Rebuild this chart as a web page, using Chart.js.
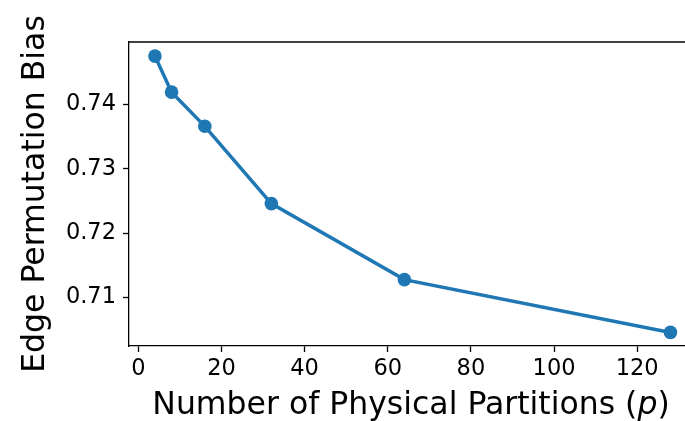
<!DOCTYPE html>
<html>
<head>
<meta charset="utf-8">
<script src="https://cdn.jsdelivr.net/npm/chart.js@4"></script>
<style>
    html, body { margin: 0; padding: 0; background: #fff; overflow: hidden; }
    #wrap { width: 685px; height: 421px; }
</style>
</head>
<body>
<div id="wrap"><canvas id="chart" width="685" height="421"></canvas></div>
<script>
// Chart data
const partitions = [4, 8, 16, 32, 64, 128];
const bias = [0.7475, 0.7419, 0.7366, 0.7246, 0.7128, 0.7046];
const xTicks = [0, 20, 40, 60, 80, 100, 120];
const yTicks = [0.71, 0.72, 0.73, 0.74];
const xTitle = ['Number of Physical Partitions (', 'p', ')'];

const blue = '#1f77b4';
const font = 'DejaVu Sans';
const titleSize = 31.5;

// top frame line + x title with italic p
const framePlugin = {
    id: 'frame',
    afterDraw(chart) {
        const a = chart.chartArea;
        const ctx = chart.ctx;
        ctx.save();
        ctx.strokeStyle = '#000';
        ctx.lineWidth = 1.3;
        ctx.beginPath();
        ctx.moveTo(a.left, a.top);
        ctx.lineTo(chart.width, a.top);
        ctx.stroke();

        const normal = titleSize + 'px "' + font + '"';
        const italic = 'oblique ' + normal;
        const fonts = [normal, italic, normal];
        let widths = xTitle.map((t, i) => { ctx.font = fonts[i]; return ctx.measureText(t).width; });
        let total = widths.reduce((s, w) => s + w, 0);
        let x = 411 - total / 2;
        ctx.fillStyle = '#000';
        ctx.textBaseline = 'alphabetic';
        ctx.textAlign = 'left';
        xTitle.forEach((t, i) => {
            ctx.font = fonts[i];
            ctx.fillText(t, x, 414);
            x += widths[i];
        });
        ctx.restore();
    }
};

function noPadding(s) {
    s.paddingLeft = 0;
    s.paddingRight = 0;
    s.paddingTop = 0;
    s.paddingBottom = 0;
}

new Chart(document.getElementById('chart').getContext('2d'), {
    type: 'line',
    data: {
        datasets: [{
            data: partitions.map((p, i) => ({ x: p, y: bias[i] })),
            borderColor: blue,
            backgroundColor: blue,
            borderWidth: 3.5,
            pointRadius: 6.8,
            pointBorderWidth: 0,
            fill: false,
            tension: 0,
            clip: false
        }]
    },
    options: {
        responsive: false,
        animation: false,
        layout: { autoPadding: false, padding: { top: 42, right: 0, left: 0, bottom: 0 } },
        plugins: { legend: { display: false }, tooltip: { enabled: false } },
        scales: {
            x: {
                type: 'linear',
                min: -2.24,
                max: 131.5,
                afterBuildTicks: s => { s.ticks = xTicks.map(v => ({ value: v })); },
                afterFit: s => { s.height = 75; noPadding(s); },
                border: { color: '#000', width: 1.3 },
                grid: { drawOnChartArea: false, drawTicks: true, tickLength: 6, color: '#000', tickWidth: 1.3 },
                ticks: { color: '#000', font: { family: font, size: 22.5 }, padding: 4, maxRotation: 0 },
                title: { display: false }
            },
            y: {
                type: 'linear',
                min: 0.70249,
                max: 0.74969,
                afterBuildTicks: s => { s.ticks = yTicks.map(v => ({ value: v })); },
                afterFit: s => { s.width = 129; noPadding(s); },
                border: { color: '#000', width: 1.3 },
                grid: { drawOnChartArea: false, drawTicks: true, tickLength: 6, color: '#000', tickWidth: 1.3 },
                ticks: {
                    color: '#000',
                    font: { family: font, size: 22.5 },
                    padding: 7,
                    callback: v => v.toFixed(2)
                },
                title: {
                    display: true,
                    text: 'Edge Permutation Bias',
                    color: '#000',
                    font: { family: font, size: titleSize },
                    padding: { top: 17, bottom: 0 }
                }
            }
        }
    },
    plugins: [framePlugin]
});
</script>
</body>
</html>
